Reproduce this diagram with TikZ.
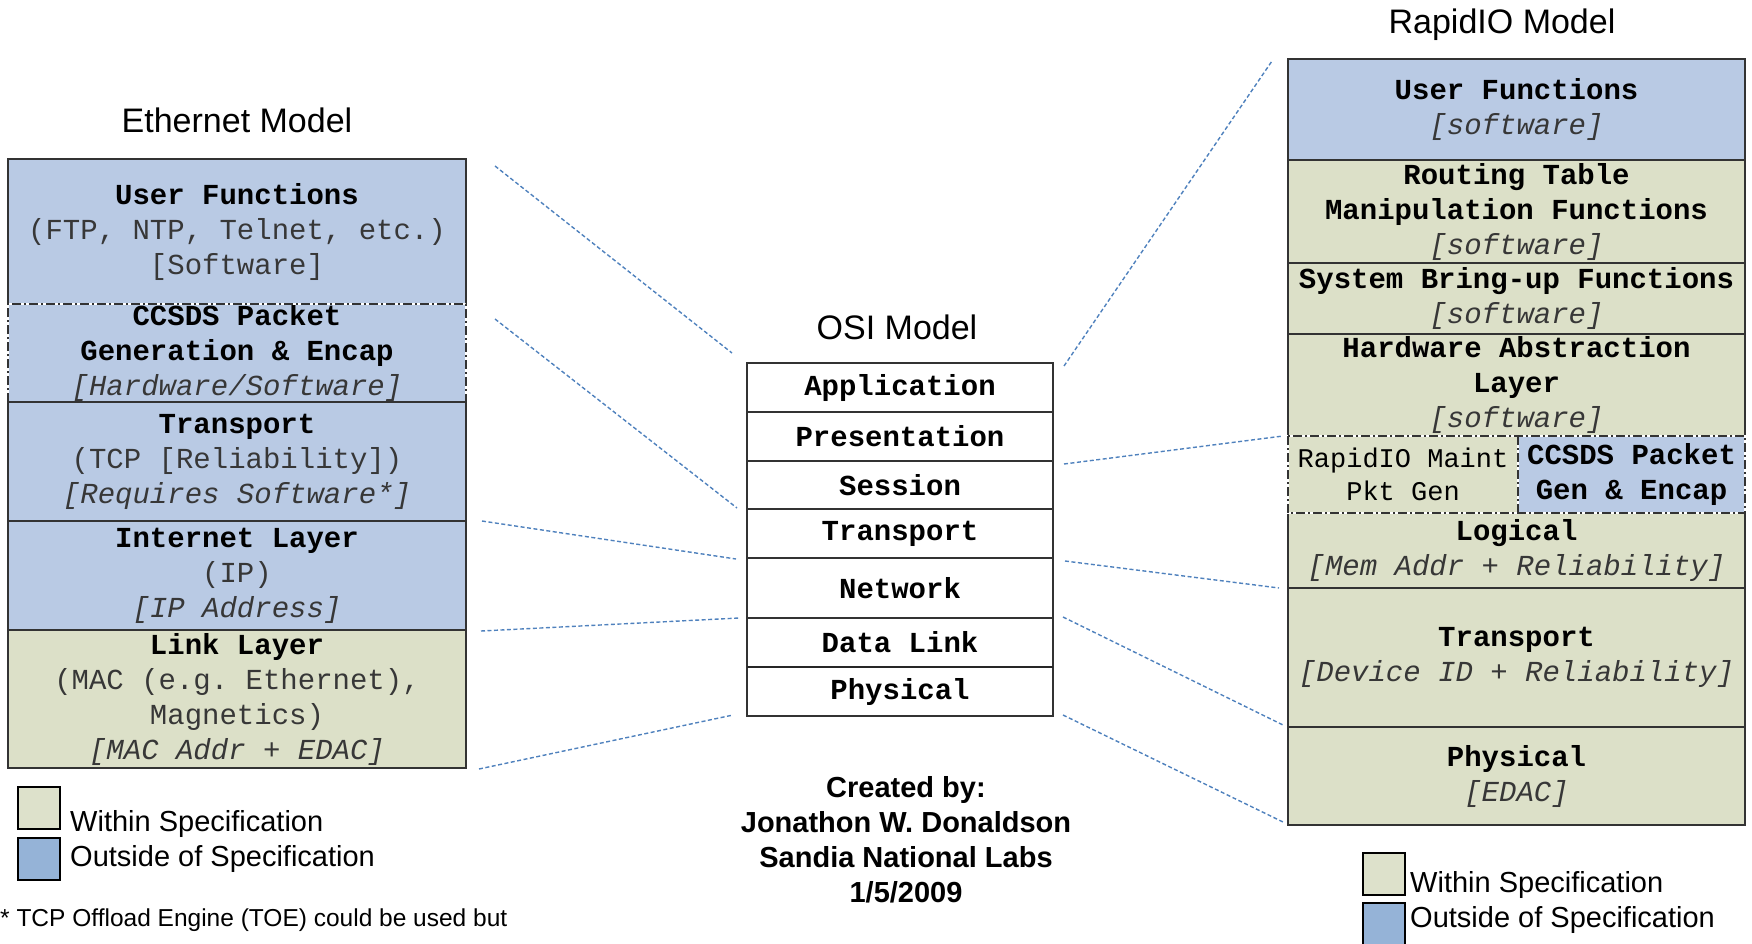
\documentclass[tikz,border=0pt]{standalone}
\usepackage{fontspec}
\setmainfont{Liberation Sans}
\setmonofont{Liberation Mono}
\usetikzlibrary{calc,chains,positioning}

\definecolor{specin}{RGB}{220,224,200}
\definecolor{specout}{RGB}{185,202,228}
\definecolor{legin}{RGB}{221,225,203}
\definecolor{legout}{RGB}{149,179,215}
\definecolor{linkblue}{RGB}{79,129,189}
\definecolor{txtgray}{RGB}{55,55,55}

\newcommand{\lyrhead}[1]{\textbf{#1}}
\newcommand{\lyrnote}[1]{\textcolor{txtgray}{#1}}
\newcommand{\lyrspec}[1]{\textcolor{txtgray}{\itshape #1}}

\tikzset{
  layer/.style={draw=black!80, line width=1.2pt, outer sep=0pt, inner sep=0pt, align=center, anchor=north,
    font=\ttfamily\frenchspacing\fontsize{29}{35}\selectfont},
  inspec/.style={layer, fill=specin},
  outspec/.style={layer, fill=specout},
  ethlayer/.style={minimum width=458pt},
  riolayer/.style={minimum width=457pt},
  osilayer/.style={layer, fill=white, minimum width=306pt, font=\ttfamily\bfseries\fontsize{29}{35}\selectfont},
  dashdot border/.style={draw=black!80, line width=1.2pt, dash pattern=on 9pt off 3pt on 2pt off 3pt},
  osilink/.style={draw=linkblue, line width=1.4pt, dash pattern=on 4pt off 2.5pt},
  modeltitle/.style={font=\fontsize{34}{40}\selectfont},
  legendbox/.style={draw=black, line width=1.5pt, minimum size=42pt, inner sep=0pt, anchor=north west},
  legendtext/.style={anchor=west, inner sep=0pt, font=\fontsize{29}{35}\selectfont},
}

\begin{document}
\begin{tikzpicture}[x=1pt,y=-1pt]
\useasboundingbox (0,0) rectangle (1752,943);

\node[modeltitle] (et) at (237,120) {Ethernet Model};
\node[modeltitle] (ot) at (897,327) {OSI Model};
\node[modeltitle] (rt) at (1502,25) {RapidIO Model};

% Ethernet stack
\begin{scope}[shift={(237,159)},start chain=going below,node distance=0pt]
\node[on chain,outspec,ethlayer,minimum height=145pt] (e1)
  {\lyrhead{User Functions}\\\lyrnote{(FTP, NTP, Telnet, etc.)}\\\lyrnote{[Software]}};
\node[on chain,outspec,ethlayer,minimum height=98pt] (e2)
  {\lyrhead{CCSDS Packet}\\\lyrhead{Generation \& Encap}\\\lyrspec{[Hardware/Software]}};
\node[on chain,outspec,ethlayer,minimum height=119pt] (e3)
  {\lyrhead{Transport}\\\lyrnote{(TCP [Reliability])}\\\lyrspec{[Requires Software*]}};
\node[on chain,outspec,ethlayer,minimum height=109pt] (e4)
  {\lyrhead{Internet Layer}\\\lyrnote{(IP)}\\\lyrspec{[IP Address]}};
\node[on chain,inspec,ethlayer,minimum height=138pt] (e5)
  {\lyrhead{Link Layer}\\\lyrnote{(MAC (e.g. Ethernet),}\\\lyrnote{Magnetics)}\\\lyrspec{[MAC Addr + EDAC]}};
\end{scope}

% OSI stack
\begin{scope}[shift={(900,363)},start chain=going below,node distance=0pt]
\def\osilist{1/49/Application,2/49/Presentation,3/48/Session,4/49/Transport,5/60/Network,6/49/Data Link,7/49/Physical}
\foreach \i/\h/\layer in \osilist
  \node [on chain,osilayer,minimum height=\h pt] (o\i) {\layer};
\end{scope}
\draw[line width=2.6pt,black!85] (o6.south west) -- (o6.south east);

% RapidIO stack
\begin{scope}[shift={(1516.5,59)},start chain=going below,node distance=0pt]
\node[on chain,outspec,riolayer,minimum height=101pt] (r1)
  {\lyrhead{User Functions}\\\lyrspec{[software]}};
\node[on chain,inspec,riolayer,minimum height=103pt] (r2)
  {\lyrhead{Routing Table}\\\lyrhead{Manipulation Functions}\\\lyrspec{[software]}};
\node[on chain,inspec,riolayer,minimum height=71pt] (r3)
  {\lyrhead{System Bring-up Functions}\\\lyrspec{[software]}};
\node[on chain,inspec,riolayer,minimum height=102pt] (r4)
  {\lyrhead{Hardware Abstraction}\\\lyrhead{Layer}\\\lyrspec{[software]}};
\node[on chain,inspec,riolayer,minimum height=77pt] (r5) {};
\node[on chain,inspec,riolayer,minimum height=75pt] (r6)
  {\lyrhead{Logical}\\\lyrspec{[Mem Addr + Reliability]}};
\node[on chain,inspec,riolayer,minimum height=139pt] (r7)
  {\lyrhead{Transport}\\\lyrspec{[Device ID + Reliability]}};
\node[on chain,inspec,riolayer,minimum height=98pt] (r8)
  {\lyrhead{Physical}\\\lyrspec{[EDAC]}};
\end{scope}
\node[inspec,anchor=west,minimum width=230pt,minimum height=77pt,
  font=\ttfamily\fontsize{27}{33}\selectfont] (r5a) at (r5.west) {RapidIO Maint\\Pkt Gen};
\node[outspec,anchor=east,minimum width=227pt,minimum height=77pt] (r5b) at (r5.east)
  {\lyrhead{CCSDS Packet}\\\lyrhead{Gen \& Encap}};

% dash-dot borders
\draw[white,line width=1.8pt] (e2.south west) -- (e2.north west) -- (e2.north east) -- (e2.south east);
\draw[dashdot border] (e2.south west) -- (e2.north west) -- (e2.north east) -- (e2.south east);
\draw[white,line width=1.8pt] (r5.north west) rectangle (r5.south east) (r5a.north east) -- (r5a.south east);
\draw[dashdot border] (r5.north west) rectangle (r5.south east) (r5a.north east) -- (r5a.south east);

% mapping lines
\draw[osilink] ($(e1.north east)+(29,7)$) -- ($(o1.north west)+(-15,-10)$);
\draw[osilink] ($(e2.north east)+(29,15)$) -- ($(o4.north west)+(-10,-1)$);
\draw[osilink] ($(e4.north east)+(16,0)$) -- ($(o5.north west)+(-11,1)$);
\draw[osilink] ($(e5.north east)+(15,1)$) -- ($(o6.north west)+(-8,0)$);
\draw[osilink] ($(e5.south east)+(13,1)$) -- ($(o7.south west)+(-14,-1)$);
\draw[osilink] ($(o1.north east)+(11,3)$) -- ($(r1.north west)+(-16,2)$);
\draw[osilink] ($(o3.north east)+(11,3)$) -- ($(r5.north west)+(-5,0)$);
\draw[osilink] ($(o5.north east)+(12,3)$) -- ($(r7.north west)+(-9,0)$);
\draw[osilink] ($(o6.north east)+(10,-1)$) -- ($(r8.north west)+(-5,-2)$);
\draw[osilink] ($(o7.south east)+(10,-1)$) -- ($(r8.south west)+(-5,-3)$);

% legends
\node[legendbox,fill=legin] (lg1) at (17,786) {};
\node[legendbox,fill=legout] (lg2) at (17,837) {};
\node[legendtext] (lt1) at (70,824) {Within Specification};
\node[legendtext] (lt2) at (70,859) {Outside of Specification};
\node[legendbox,fill=legin] (rg1) at (1362,852) {};
\node[legendbox,fill=legout] (rg2) at (1362,902) {};
\node[legendtext] (rt1) at (1410,885) {Within Specification};
\node[legendtext] (rt2) at (1410,920) {Outside of Specification};

\node[align=center,font=\bfseries\fontsize{29}{35}\selectfont] (credit) at (906,840)
  {Created by:\\Jonathon W. Donaldson\\Sandia National Labs\\1/5/2009};
\node[anchor=west,inner sep=0pt,font=\fontsize{24.5}{28}\selectfont] (toe) at (0,920)
  {* TCP Offload Engine (TOE) could be used but};

\end{tikzpicture}
\end{document}
